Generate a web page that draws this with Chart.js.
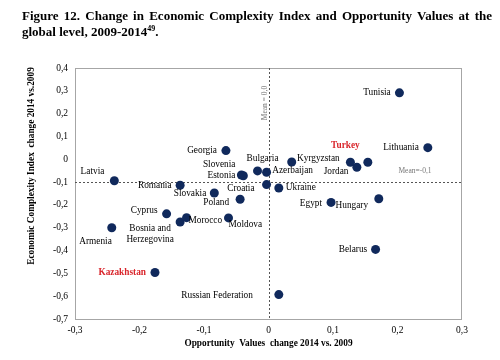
<!DOCTYPE html>
<html>
<head>
<meta charset="utf-8">
<script src="https://cdn.jsdelivr.net/npm/chart.js@4/dist/chart.umd.min.js"></script>
<style>
  html, body { margin: 0; padding: 0; background: #ffffff; }
  #wrap { position: relative; width: 500px; height: 360px; overflow: hidden; }
  #c { position: absolute; left: 0; top: 0; }
  #title { position: absolute; left: 22px; top: 8px; width: 470px;
    font-family: "Liberation Serif", "Times New Roman", serif; font-weight: bold;
    font-size: 13px; line-height: 16px; color: #000; }
  #title .l1 { text-align: justify; text-align-last: justify; white-space: nowrap; }
  #title sup { font-size: 8px; line-height: 0; vertical-align: 5px; }
</style>
</head>
<body>
<div id="wrap">
  <canvas id="c" width="500" height="360"></canvas>
  <div id="title">
    <div class="l1">Figure 12. Change in Economic Complexity Index and Opportunity Values at the</div>
    <div>global level, 2009-2014<sup>49</sup>.</div>
  </div>
</div>
<script>
// ---- data ----
const countries = ["Georgia","Slovenia","Estonia","Bulgaria","Azerbaijan","Latvia","Romania","Slovakia","Croatia","Ukraine","Poland","Tunisia","Turkey","Jordan","","Lithuania","Kyrgyzstan","Egypt","Hungary","Cyprus","Bosnia and Herzegovina","Morocco","Moldova","Armenia","Kazakhstan","Russian Federation","Belarus"];
const opportunityChange = [-0.066,-0.042,-0.039,-0.017,-0.003,-0.239,-0.137,-0.084,-0.003,0.016,-0.044,0.203,0.127,0.137,0.154,0.247,0.036,0.097,0.171,-0.158,-0.137,-0.127,-0.062,-0.243,-0.176,0.016,0.166];
const complexityChange = [0.038,-0.069,-0.072,-0.051,-0.057,-0.094,-0.114,-0.148,-0.111,-0.126,-0.175,0.291,-0.013,-0.035,-0.013,0.051,-0.012,-0.189,-0.173,-0.239,-0.275,-0.256,-0.257,-0.300,-0.496,-0.593,-0.395];
const highlighted = ["Turkey","Kazakhstan"];
const xTicks = { min: -0.3, max: 0.3, step: 0.1 };
const yTicks = { min: -0.7, max: 0.4, step: 0.1 };
const meanX = 0.0, meanY = -0.1;
const xTitle = "Opportunity  Values  change 2014 vs. 2009";
const yTitle = "Economic Complexity Index  change 2014 vs.2009";
const meanXLabel = "Mean = 0,0";
const meanYLabel = "Mean=-0,1";

// ---- label placement (layout only) ----
const place = {
  "Georgia":["right",-9,0], "Slovenia":["right",-6,-10.7], "Estonia":["right",-8,0],
  "Bulgaria":["center",5,-12], "Azerbaijan":["left",5.6,-1.3], "Latvia":["right",-10,-9],
  "Romania":["right",-8.6,0.4], "Slovakia":["right",-8,0.3], "Croatia":["right",-12,3.6],
  "Ukraine":["left",7,0], "Poland":["right",-11,3.4], "Tunisia":["right",-8.7,0],
  "Turkey":["center",-5,-17], "Jordan":["right",-8.4,4.4], "Lithuania":["right",-9,0.3],
  "Kyrgyzstan":["left",5.3,-3], "Egypt":["right",-9,1], "Hungary":["right",-10.7,7],
  "Cyprus":["right",-9,-3.4], "Bosnia and Herzegovina":["center",-30,7], "Morocco":["left",2,3],
  "Moldova":["left",0,6.3], "Armenia":["right",0,13.6], "Kazakhstan":["right",-9,0],
  "Russian Federation":["right",-26,0.7], "Belarus":["right",-8.4,0.4]
};
const SERIF = '"Liberation Serif", "Times New Roman", serif';
const fmt = v => Math.abs(v) < 1e-9 ? "0" : v.toFixed(1).replace(".", ",");

const points = countries.map((c, i) => ({ x: opportunityChange[i], y: complexityChange[i] }));

const decor = {
  id: "decor",
  beforeDatasetsDraw(chart) {
    const { ctx, chartArea: a, scales: { x, y } } = chart;
    ctx.save();
    ctx.strokeStyle = "#a6a6a6"; ctx.lineWidth = 1;
    ctx.strokeRect(Math.round(a.left) + 0.5, Math.round(a.top) + 0.5, Math.round(a.right - a.left) - 1, Math.round(a.bottom - a.top));
    ctx.strokeStyle = "#555"; ctx.setLineDash([2, 2]);
    const px = Math.round(x.getPixelForValue(meanX)) + 0.5;
    const py = Math.round(y.getPixelForValue(meanY)) + 0.5;
    ctx.beginPath(); ctx.moveTo(px, a.top); ctx.lineTo(px, a.bottom); ctx.stroke();
    ctx.beginPath(); ctx.moveTo(a.left, py); ctx.lineTo(a.right, py); ctx.stroke();
    ctx.setLineDash([]);
    ctx.fillStyle = "#777"; ctx.font = "7.5px " + SERIF;
    ctx.textAlign = "center"; ctx.textBaseline = "middle";
    ctx.fillText(meanYLabel, 415, py - 11);
    ctx.save(); ctx.translate(px - 4, 103); ctx.rotate(-Math.PI / 2);
    ctx.fillText(meanXLabel, 0, 0); ctx.restore();
    // axis titles
    ctx.fillStyle = "#000"; ctx.font = "bold 9.3px " + SERIF;
    ctx.fillText(xTitle, (a.left + a.right) / 2, 344);
    ctx.save(); ctx.translate(32, 166); ctx.rotate(-Math.PI / 2);
    ctx.fillText(yTitle, 0, 0); ctx.restore();
    ctx.restore();
  },
  afterDatasetsDraw(chart) {
    const { ctx } = chart;
    const meta = chart.getDatasetMeta(0);
    ctx.save();
    ctx.textBaseline = "middle";
    meta.data.forEach((pt, i) => {
      const name = countries[i];
      if (!name || !place[name]) return;
      const [al, dx, dy] = place[name];
      const hl = highlighted.includes(name);
      ctx.fillStyle = hl ? "#d9262c" : "#000";
      ctx.font = (hl ? "bold " : "") + "9.3px " + SERIF;
      ctx.textAlign = al;
      if (name === "Bosnia and Herzegovina") {
        ctx.fillText("Bosnia and", pt.x + dx, pt.y + dy);
        ctx.fillText("Herzegovina", pt.x + dx, pt.y + dy + 10.3);
      } else {
        ctx.fillText(name, pt.x + dx, pt.y + dy);
      }
    });
    ctx.restore();
  }
};

new Chart(document.getElementById("c"), {
  type: "scatter",
  data: { datasets: [{ data: points, backgroundColor: "#10295c", borderColor: "#10295c",
    pointRadius: 4.5, pointHoverRadius: 4.5, borderWidth: 0 }] },
  options: {
    responsive: false, animation: false, devicePixelRatio: 1,
    layout: { padding: { top: 68, right: 38, left: 0, bottom: 0 } },
    plugins: { legend: { display: false }, tooltip: { enabled: false }, title: { display: false } },
    scales: {
      x: { type: "linear", min: xTicks.min, max: xTicks.max,
        grid: { display: false, drawTicks: false }, border: { display: false },
        ticks: { stepSize: xTicks.step, padding: 6, color: "#000", font: { family: SERIF, size: 9.5 }, callback: v => fmt(v), maxRotation: 0 },
        afterFit: s => { s.height = 41; } },
      y: { type: "linear", min: yTicks.min, max: yTicks.max,
        grid: { display: false, drawTicks: false }, border: { display: false },
        ticks: { stepSize: yTicks.step, padding: 7, color: "#000", font: { family: SERIF, size: 9.5 }, callback: v => fmt(v) },
        afterFit: s => { s.width = 75; } }
    }
  },
  plugins: [decor]
});
</script>
</body>
</html>
